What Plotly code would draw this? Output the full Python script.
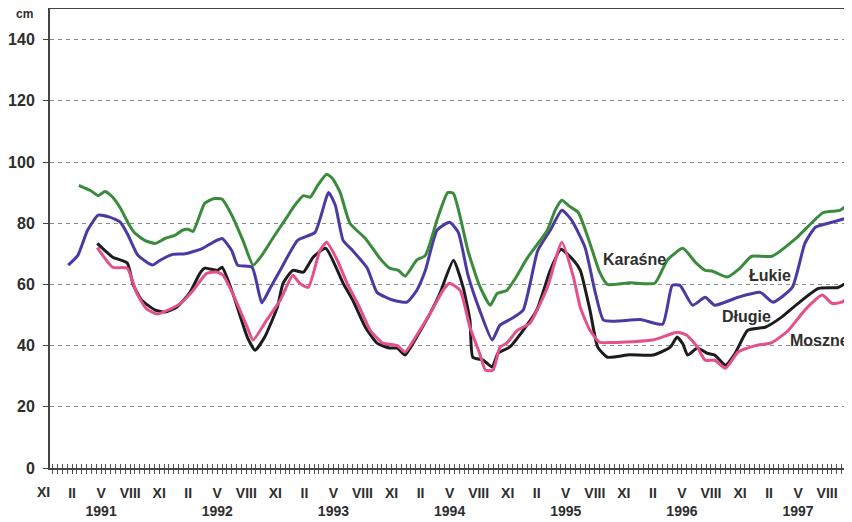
import plotly.graph_objects as go

# x = months counted from November 1990 (label "XI" = 0)
month_ticks = [0, 3, 6, 9, 12, 15, 18, 21, 24, 27, 30, 33, 36, 39, 42, 45, 48, 51,
               54, 57, 60, 63, 66, 69, 72, 75, 78, 81]
month_labels = ["XI", "II", "V", "VIII"] * 7
year_ticks = [6, 18, 30, 42, 54, 66, 78]
year_labels = ["1991", "1992", "1993", "1994", "1995", "1996", "1997"]
y_ticks = [0, 20, 40, 60, 80, 100, 120, 140]

karasne_x = [3.7, 4.9, 5.7, 6.4, 7.1, 8.0, 8.8, 9.5, 10.5, 11.6, 12.6, 13.6, 14.4, 15.0, 15.5,
             16.7, 17.6, 18.5, 19.5, 20.7, 21.7, 22.6, 23.8, 25.2, 26.0, 26.9, 27.6, 28.4, 29.3,
             29.9, 30.7, 31.7, 33.3, 34.8, 35.8, 36.7, 37.4, 38.6, 39.5, 40.8, 41.8, 42.4, 43.1,
             43.9, 45.1, 46.2, 46.9, 47.9, 48.8, 50.0, 51.0, 52.1, 52.9, 53.6, 54.4, 55.3, 56.5,
             57.5, 58.3, 60.6, 63.2, 64.5, 66.1, 67.4, 68.4, 69.1, 70.7, 72.0, 73.2, 75.3, 77.9,
             80.6, 82.3, 83.1]
karasne_y = [92.4, 90.7, 89.0, 90.4, 88.8, 84.9, 80.0, 76.7, 74.4, 73.4, 75.0, 76.0, 77.7, 78.0, 77.3,
             86.5, 88.0, 87.8, 82.6, 74.0, 66.3, 69.5, 75.4, 82.0, 85.8, 89.0, 88.5, 92.5, 96.0,
             94.6, 90.0, 80.0, 75.0, 68.5, 65.3, 64.6, 62.7, 67.9, 69.5, 82.0, 90.0, 89.7, 82.0,
             71.0, 59.5, 53.2, 57.0, 58.0, 62.0, 68.5, 72.8, 77.7, 84.2, 87.5, 85.5, 83.5, 73.4,
             64.0, 60.0, 60.5, 60.4, 68.0, 71.8, 67.2, 64.6, 64.4, 62.4, 65.3, 69.2, 69.2, 75.4,
             83.5, 84.2, 86.0]

lukie_x = [2.6, 3.6, 4.6, 5.7, 6.9, 8.0, 8.8, 9.8, 11.3, 12.1, 13.4, 14.7, 16.5, 17.7, 18.5, 19.5,
           20.1, 21.6, 22.6, 23.5, 24.5, 26.3, 28.1, 29.5, 30.2, 31.0, 32.0, 33.5, 34.5, 36.2,
           37.6, 38.6, 39.5, 40.7, 42.0, 42.9, 43.9, 45.1, 46.4, 47.2, 48.5, 49.6, 50.3, 51.1,
           52.4, 53.6, 54.6, 56.0, 57.0, 57.9, 59.3, 61.7, 64.0, 65.0, 65.8, 67.1, 68.4, 69.4,
           71.8, 74.1, 75.4, 77.4, 78.7, 79.8, 81.5, 83.4]
lukie_y = [66.3, 69.5, 77.7, 82.6, 82.0, 80.3, 76.0, 69.5, 66.3, 67.9, 69.8, 70.0, 71.8, 74.0, 75.0, 71.0,
           66.3, 65.6, 54.0, 59.0, 64.6, 74.4, 77.0, 90.0, 85.8, 74.4, 71.0, 65.3, 57.4, 54.8,
           54.2, 58.0, 64.6, 77.7, 80.3, 77.0, 63.0, 51.6, 41.8, 46.7, 49.0, 51.6, 60.0, 71.0,
           77.7, 84.2, 81.0, 72.0, 58.0, 48.3, 48.0, 48.5, 47.0, 59.7, 59.7, 53.2, 55.8, 53.2,
           55.8, 57.4, 54.2, 59.0, 73.4, 78.7, 80.3, 82.0]

dlugie_x = [5.6, 7.2, 8.7, 9.3, 10.2, 11.6, 12.6, 13.8, 15.2, 16.2, 16.7, 18.0, 18.5, 19.6, 21.1,
            21.9, 22.9, 24.2, 24.8, 25.8, 26.9, 27.9, 29.2, 31.0, 32.0, 33.3, 34.5, 35.8, 36.6,
            37.4, 38.6, 40.0, 41.0, 42.4, 43.4, 44.1, 44.4, 45.5, 46.4, 47.0, 48.2, 49.6, 51.0,
            52.4, 53.5, 54.8, 55.5, 56.5, 57.3, 58.3, 60.6, 63.0, 64.8, 65.5, 66.1, 66.6, 67.6,
            68.6, 69.4, 70.5, 71.5, 72.8, 74.6, 76.3, 78.0, 80.1, 82.1, 83.4]
dlugie_y = [73.4, 68.9, 67.0, 60.0, 54.8, 51.6, 51.0, 52.5, 57.5, 63.6, 65.3, 64.6, 65.6, 57.1, 42.8,
            38.5, 42.8, 52.5, 60.4, 64.6, 64.0, 68.9, 71.8, 60.4, 54.8, 46.0, 40.8, 39.2, 39.2,
            36.9, 42.8, 50.6, 57.1, 67.9, 59.0, 48.3, 36.2, 35.2, 33.0, 37.5, 39.5, 45.0, 51.6,
            64.6, 71.5, 67.9, 64.6, 51.6, 39.5, 36.2, 37.0, 36.9, 39.5, 42.8, 40.5, 36.9, 39.2,
            37.5, 36.9, 33.6, 37.5, 45.0, 46.0, 49.3, 53.8, 58.7, 59.0, 61.4]

moszne_x = [5.6, 7.2, 8.7, 9.7, 10.7, 11.8, 12.9, 14.2, 15.5, 16.9, 18.0, 18.6, 19.6, 21.1, 21.7,
            23.1, 24.5, 25.8, 26.5, 27.4, 28.6, 29.3, 30.4, 31.4, 32.7, 33.8, 35.1, 36.6, 37.4,
            38.6, 40.0, 41.3, 42.0, 43.1, 44.1, 45.1, 45.7, 46.5, 47.2, 47.9, 49.0, 50.3, 52.1,
            53.6, 54.8, 55.5, 56.5, 57.5, 58.9, 63.0, 64.5, 65.5, 66.5, 67.6, 68.4, 69.4, 70.5,
            71.8, 73.6, 75.3, 77.0, 78.7, 80.5, 81.5, 82.5, 83.4]
moszne_y = [72.0, 65.6, 65.3, 57.0, 52.0, 50.3, 51.6, 53.8, 58.0, 63.6, 64.0, 63.0, 57.0, 46.0, 41.8,
            48.3, 54.8, 63.0, 60.4, 59.0, 71.0, 73.8, 67.9, 60.4, 52.5, 45.0, 40.8, 40.0, 37.9,
            43.4, 50.6, 58.0, 60.4, 58.0, 46.0, 37.5, 32.0, 32.0, 39.5, 40.8, 45.0, 47.3, 59.0,
            73.8, 62.3, 52.5, 45.0, 41.1, 41.0, 41.8, 43.4, 44.4, 43.4, 39.5, 35.2, 35.2, 32.6,
            37.9, 40.0, 41.0, 45.0, 51.6, 56.5, 53.8, 54.2, 56.5]

label_names = ["Karaśne", "Łukie", "Długie", "Moszne"]
label_x = [61.05, 75.1, 72.7, 80.2]
label_y = [68.2, 63.0, 49.6, 41.8]

FONT = "Arial, Liberation Sans, sans-serif"
TXT = "#2e2e2e"
XFONT = 14
xr = [0.72, 83.26]

fig = go.Figure()
series = [
    ("Łukie", lukie_x, lukie_y, "#4a3aa2"),
    ("Karaśne", karasne_x, karasne_y, "#3a8c3c"),
    ("Długie", dlugie_x, dlugie_y, "#1c1c1c"),
    ("Moszne", moszne_x, moszne_y, "#e6508a"),
]
for name, xs, ys, col in series:
    fig.add_trace(go.Scatter(x=xs, y=ys, mode="lines", name=name,
                             line=dict(color=col, width=3, shape="spline", smoothing=0.5),
                             showlegend=False, hoverinfo="skip"))

# empty trace to carry the second (year label) axis
fig.add_trace(go.Scatter(x=[], y=[], xaxis="x2", showlegend=False, hoverinfo="skip"))

for name, lx, ly in zip(label_names, label_x, label_y):
    fig.add_annotation(x=lx, y=ly, text="<b>%s</b>" % name, showarrow=False,
                       font=dict(family=FONT, size=16, color=TXT))

# month labels that fall left of the axis start (drawn beside the axis like the others)
for m, lab in zip(month_ticks, month_labels):
    if m < xr[0]:
        fig.add_annotation(xref="paper", yref="paper",
                           x=(m - xr[0]) / (xr[1] - xr[0]), y=0,
                           xanchor="center", yanchor="middle", yshift=-24,
                           text="<b>%s</b>" % lab, showarrow=False,
                           font=dict(family=FONT, size=XFONT, color=TXT))

fig.add_annotation(xref="paper", yref="paper", x=0, y=1, xanchor="right", yanchor="middle",
                   xshift=-15, yshift=-5, text="<b>cm</b>", showarrow=False,
                   font=dict(family=FONT, size=12, color=TXT))

fig.update_layout(
    width=844, height=514,
    margin=dict(l=42, r=3, t=1, b=54, autoexpand=False),
    paper_bgcolor="white", plot_bgcolor="white",
    xaxis=dict(range=xr, tickmode="array",
               tickvals=[m for m in month_ticks if m >= xr[0]],
               ticktext=["<b>%s</b>" % t for m, t in zip(month_ticks, month_labels) if m >= xr[0]],
               tickfont=dict(family=FONT, size=XFONT, color=TXT),
               ticks="outside", ticklen=4, tickcolor="#444", tickwidth=1,
               minor=dict(dtick=0.5, tick0=0, ticks="outside", ticklen=4, tickcolor="#555"),
               ticklabelstandoff=7, automargin=False,
               showline=True, linecolor="#444", linewidth=2, mirror=True,
               showgrid=False, zeroline=False, fixedrange=True),
    xaxis2=dict(range=xr, overlaying="x", side="bottom", anchor="y",
                tickmode="array", tickvals=year_ticks,
                ticktext=["<b>%s</b>" % t for t in year_labels],
                tickfont=dict(family=FONT, size=XFONT, color=TXT),
                ticks="", ticklabelstandoff=33, automargin=False,
                minor=dict(dtick=0.5, tick0=0, ticks="inside", ticklen=4, tickcolor="#555"),
                showline=False, showgrid=False, zeroline=False),
    yaxis=dict(range=[0, 150], tickmode="array", tickvals=y_ticks,
               ticktext=["<b>%d</b>" % v for v in y_ticks],
               tickfont=dict(family=FONT, size=16, color=TXT),
               ticks="outside", ticklen=5, tickcolor="#444", ticklabelstandoff=5,
               automargin=False,
               showline=True, linecolor="#444", linewidth=2, mirror=True,
               showgrid=True, gridcolor="#8a8a8a", gridwidth=1, griddash="4px,4px",
               zeroline=False, fixedrange=True),
)

fig.write_html("out.html")
